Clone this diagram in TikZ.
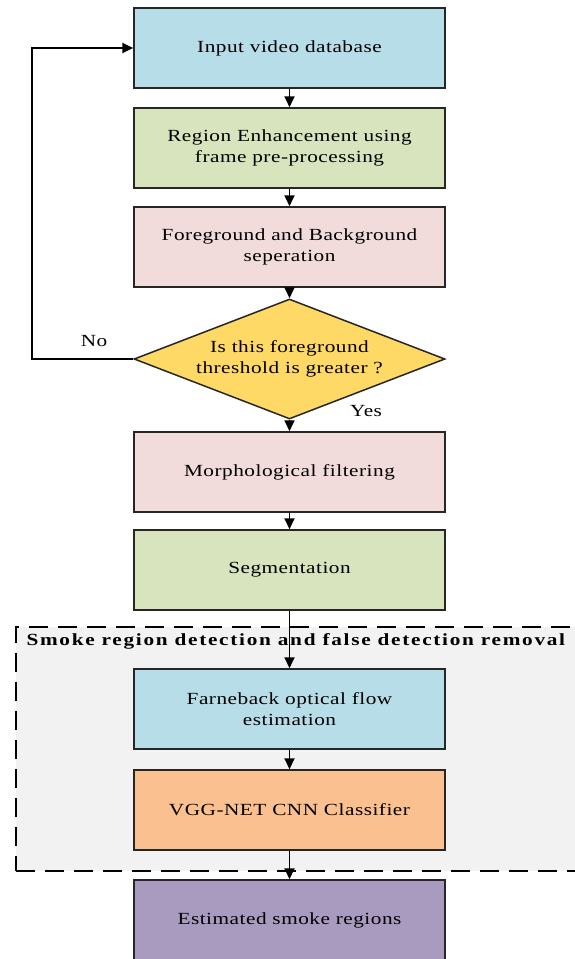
\documentclass[tikz,border=0pt]{standalone}
\usepackage{fontspec}
\setmainfont{Liberation Serif}[FakeStretch=1.25,LetterSpace=3]
\newfontfamily\titlefont{Liberation Serif}[FakeStretch=1.25,LetterSpace=10]
\usepackage{xcolor}
\definecolor{stepBlue}{HTML}{B7DDE8}
\definecolor{stepGreen}{HTML}{D7E4BD}
\definecolor{stepPink}{HTML}{F2DCDB}
\definecolor{stepYellow}{HTML}{FFD966}
\definecolor{stepOrange}{HTML}{FAC090}
\definecolor{stepPurple}{HTML}{A99BBF}
\definecolor{regionGray}{HTML}{F2F2F2}
\usetikzlibrary{arrows.meta,positioning,shapes.geometric}
\tikzset{
  >={Triangle[length=11pt,width=10pt]},
  stepbox/.style={rectangle,draw=black!85,line width=1.5pt,minimum width=311pt,minimum height=80pt,inner sep=0pt,align=center,font=\fontsize{17}{21}\selectfont},
  decision/.style={diamond,draw=black!85,line width=1.5pt,fill=stepYellow,minimum width=311pt,minimum height=120pt,aspect=2.6,inner sep=0pt,align=center,font=\fontsize{17}{21}\selectfont},
  flowarrow/.style={->,draw=black,line width=1.8pt},
  region/.style={rectangle,draw=black,fill=regionGray,line width=1.5pt,dash pattern=on 19pt off 10pt},
  answer/.style={font=\fontsize{17}{21}\selectfont},
}
\begin{document}
\begin{tikzpicture}[x=1pt,y=-1pt]
  \useasboundingbox (0,0) rectangle (575,959);

  % smoke region block
  \node[region, minimum width=590pt, minimum height=244pt, anchor=north west] (box) at (15,626) {};
  \node[font=\titlefont\bfseries\fontsize{17}{20}\selectfont, anchor=west] (boxlbl) at (23,641) {Smoke region detection and false detection removal};

  \node[stepbox, fill=stepBlue]   (inp)  at (289.5,48)  {Input video database};
  \node[stepbox, fill=stepGreen]  (enh)  at (289.5,148) {Region Enhancement using\\frame pre-processing};
  \node[stepbox, fill=stepPink]   (sep)  at (289.5,247) {Foreground and Background\\seperation};
  \node[decision]                 (thr)  at (289.5,359) {Is this foreground\\threshold is greater ?};
  \node[stepbox, fill=stepPink]   (mor)  at (289.5,472) {Morphological filtering};
  \node[stepbox, fill=stepGreen]  (seg)  at (289.5,570) {Segmentation};
  \node[stepbox, fill=stepBlue]   (flow) at (289.5,709) {Farneback optical flow\\estimation};
  \node[stepbox, fill=stepOrange] (vgg)  at (289.5,810) {VGG-NET CNN Classifier};
  \node[stepbox, fill=stepPurple] (est)  at (289.5,920) {Estimated smoke regions};

  \draw[flowarrow] (inp) -- (enh);
  \draw[flowarrow] (enh) -- (sep);
  \draw[flowarrow] (sep) -- (thr);
  \draw[flowarrow] (thr) -- (mor);
  \draw[flowarrow] (mor) -- (seg);
  \draw[flowarrow] (seg) -- (flow);
  \draw[flowarrow] (flow) -- (vgg);
  \draw[flowarrow] (vgg) -- (est);
  \draw[flowarrow] (thr.west) -- ++(-101,0) |- (inp.west);

  \node[answer] (no)  at (94,341)  {No};
  \node[answer] (yes) at (366,411) {Yes};
\end{tikzpicture}
\end{document}
